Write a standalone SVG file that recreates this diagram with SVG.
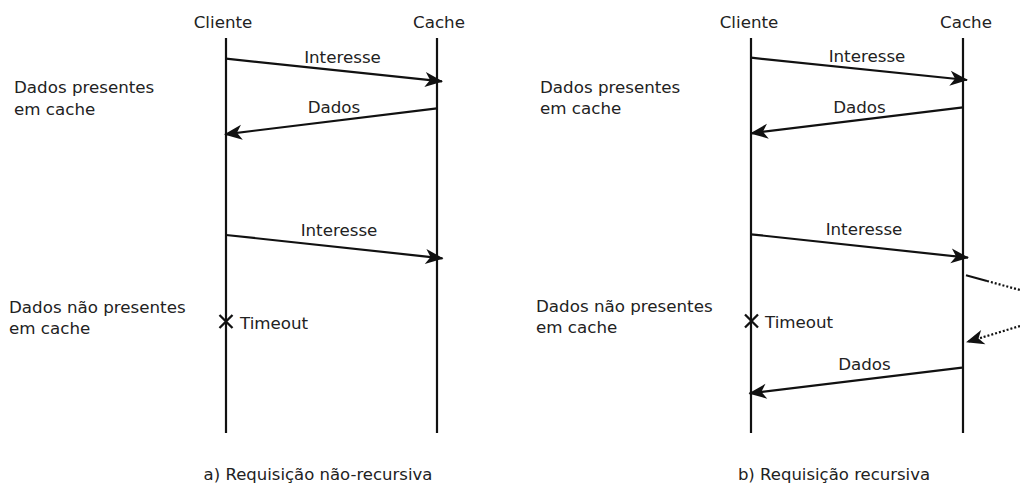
<svg xmlns="http://www.w3.org/2000/svg" width="1020" height="486" viewBox="0 0 1020 486">
<defs>
<style>
text{font-family:"DejaVu Sans",sans-serif;font-size:16.7px;fill:#222}
.mid{text-anchor:middle}
.cap{font-size:16.5px;text-anchor:middle}
.life{stroke:#111;stroke-width:2.2;fill:none}
.msg{stroke:#111;stroke-width:2.2;fill:none;marker-end:url(#ah)}
.dot{stroke:#111;stroke-width:2.2;fill:none;stroke-dasharray:2 2}
.x{stroke:#111;stroke-width:2.3}
</style>
<marker id="ah" markerUnits="userSpaceOnUse" viewBox="-19 -9 21 18" markerWidth="21" markerHeight="18" refX="0" refY="0" orient="auto">
<path d="M1,0 L-17,-7.5 L-12,0 L-17,7.5 Z" fill="#111"/>
</marker>
</defs>
<rect width="1020" height="486" fill="#fff"/>
<g id="left-cliente"><text class="mid" x="223" y="28">Cliente</text><line class="life" x1="226" y1="38" x2="226" y2="433"/></g>
<g id="left-cache"><text class="mid" x="439" y="28">Cache</text><line class="life" x1="437" y1="38" x2="437" y2="433"/></g>
<g id="right-cliente"><text class="mid" x="749" y="27.5">Cliente</text><line class="life" x1="751" y1="38" x2="751" y2="433"/></g>
<g id="right-cache"><text class="mid" x="966" y="27.5">Cache</text><line class="life" x1="963" y1="38" x2="963" y2="433"/></g>
<g id="left-labels">
<text x="14" y="93">Dados presentes</text><text x="14" y="114.5">em cache</text>
<text x="9" y="312.5">Dados não presentes</text><text x="9" y="334">em cache</text>
<text x="240" y="328.5">Timeout</text>
<text class="cap" x="318" y="480">a) Requisição não-recursiva</text>
</g>
<g id="right-labels">
<text x="540" y="92.5">Dados presentes</text><text x="540" y="114">em cache</text>
<text x="536" y="311.5">Dados não presentes</text><text x="536" y="333">em cache</text>
<text x="765" y="328">Timeout</text>
<text class="cap" x="834" y="480">b) Requisição recursiva</text>
</g>
<g id="connectors">
<line class="msg" x1="226" y1="58.7" x2="442" y2="81.3"/>
<text class="mid" x="342.5" y="63">Interesse</text>
<line class="msg" x1="437" y1="108.3" x2="225" y2="134.3"/>
<text class="mid" x="334" y="113">Dados</text>
<line class="msg" x1="226" y1="235" x2="442.5" y2="258.3"/>
<text class="mid" x="339" y="235.5">Interesse</text>
<path class="x" d="M219.5,315 L232.5,328 M232.5,315 L219.5,328"/>

<line class="msg" x1="751" y1="57.7" x2="967" y2="80"/>
<text class="mid" x="867" y="62">Interesse</text>
<line class="msg" x1="963" y1="107.3" x2="751" y2="133.3"/>
<text class="mid" x="859.5" y="112.5">Dados</text>
<line class="msg" x1="751" y1="234.3" x2="968" y2="257.7"/>
<text class="mid" x="864" y="234.5">Interesse</text>
<path class="x" d="M745,314.5 L758,327.5 M758,314.5 L745,327.5"/>
<line class="life" x1="966" y1="275.3" x2="987" y2="281"/>
<line class="dot" x1="987" y1="281" x2="1020" y2="290"/>
<line class="dot" x1="1020" y1="326" x2="982" y2="337.5"/>
<line class="msg" x1="982" y1="337.5" x2="967" y2="342" style="stroke-dasharray:2 2"/>
<line class="msg" x1="962" y1="367.7" x2="749.5" y2="393.3"/>
<text class="mid" x="864.5" y="369.5">Dados</text>
</g>
</svg>
